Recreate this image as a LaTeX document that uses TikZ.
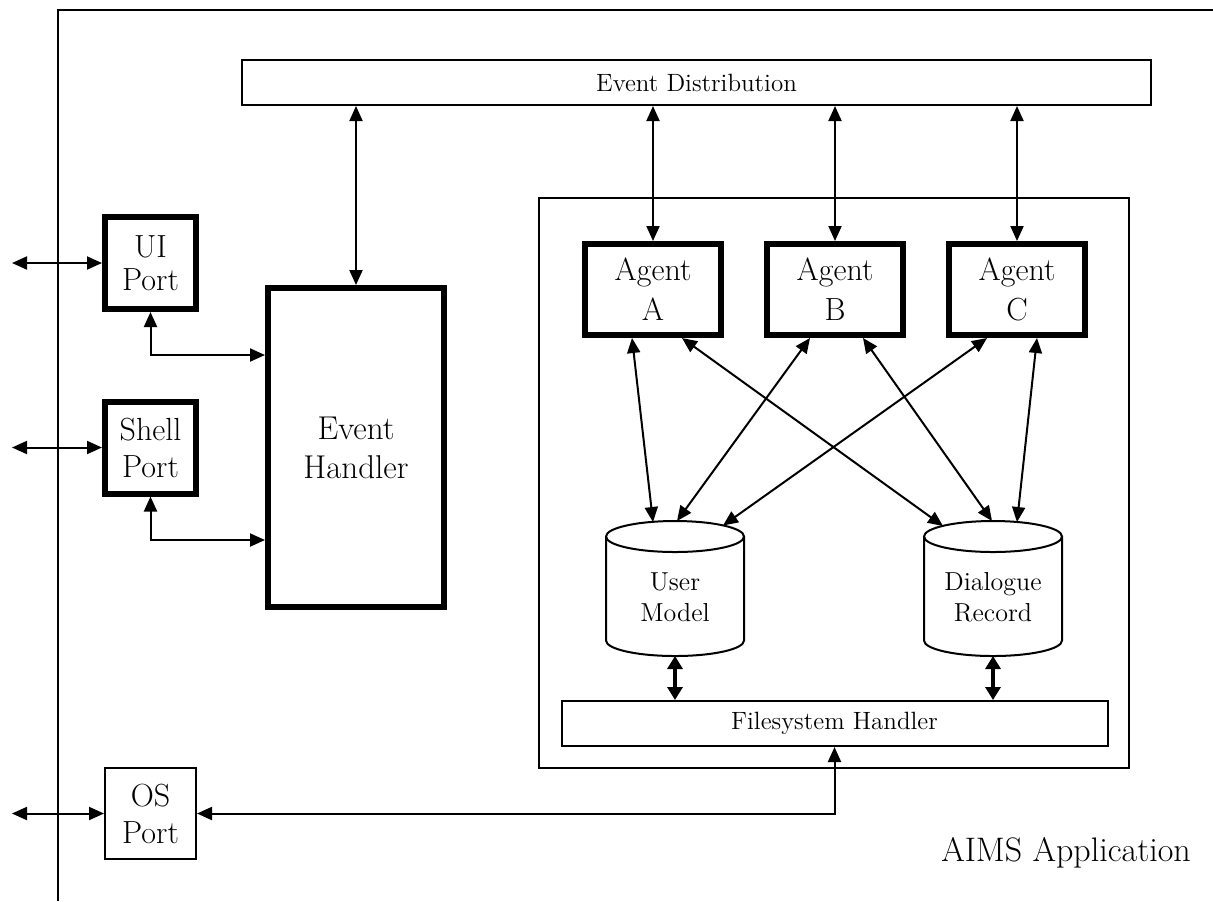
\documentclass[tikz,border=0pt]{standalone}
\usetikzlibrary{arrows.meta,calc}

% database drum around a named text node (outline drawn relative to its centre)
\newcommand\drumaround[1]{%
  \draw[thinline] ($(#1.center)+(-69,-60.5)$) -- ($(#1.center)+(-69,43.5)$)
    arc[start angle=180, end angle=360, x radius=34.5pt, y radius=7.75pt]
    -- ($(#1.center)+(69,-60.5)$);
  \draw[thinline] ($(#1.center)+(0,-60.5)$) ellipse [x radius=34.5pt, y radius=7.75pt];}

\begin{document}
\begin{tikzpicture}[x=0.5pt,y=-0.5pt,
  thinline/.style={line width=1pt},
  plainbox/.style={draw, line width=1pt, inner sep=0pt, align=center},
  heavybox/.style={draw, line width=3pt, inner sep=0pt, align=center,
                   font=\fontsize{16}{19}\selectfont},
  portbox/.style={minimum width=45.5pt, minimum height=46pt},
  agentbox/.style={heavybox, minimum width=68pt, minimum height=45.5pt,
                   font=\fontsize{16}{20}\selectfont},
  bar/.style={plainbox, font=\fontsize{12.5}{15}\selectfont, minimum height=22.5pt},
  drumtext/.style={inner sep=0pt, align=center, font=\fontsize{13}{15.5}\selectfont},
  link/.style={line width=1pt,
    {Triangle[length=7.5pt,width=6.5pt]}-{Triangle[length=7.5pt,width=6.5pt]}},
  fatlink/.style={line width=2pt,
    {Triangle[length=6.5pt,width=7.5pt]}-{Triangle[length=6.5pt,width=7.5pt]}},
]
\useasboundingbox (0,0) rectangle (1213,901);
\fill[white] (0,0) rectangle (1213,901);

% application frame (left and top edges)
\draw[thinline] (58,901) -- (58,10) -- (1213,10);

% event bus and handler
\node[bar, minimum width=454.5pt] (ED) at (696.5,82.5) {Event Distribution};
\node[heavybox, minimum width=88pt, minimum height=159.5pt,
      font=\fontsize{16.5}{19.5}\selectfont] (EH) at (356,447.5) {Event\\Handler};

% ports
\node[heavybox, portbox, font=\fontsize{16}{16.5}\selectfont] (ui) at (150.5,263) {UI\\Port};
\node[heavybox, portbox, font=\fontsize{16}{18.5}\selectfont] (shell) at (150.5,447.5) {Shell\\Port};
\node[plainbox, minimum width=45.5pt, minimum height=45.5pt,
      font=\fontsize{16}{18.5}\selectfont] (os) at (150.5,813.5) {OS\\Port};

% agent subsystem
\node[plainbox, minimum width=295pt, minimum height=285pt] (inner) at (833.5,482.5) {};
\node[agentbox] (agA) at (653,289.5) {Agent\\A};
\node[agentbox] (agB) at (835,289.5) {Agent\\B};
\node[agentbox] (agC) at (1017,289.5) {Agent\\C};

\node[drumtext] (um) at (675,597) {User\\Model};
\node[drumtext] (dr) at (993,597) {Dialogue\\Record};
\drumaround{um}
\drumaround{dr}

\node[bar, minimum width=273pt] (fs) at (834.5,723.5) {Filesystem Handler};

\node[font=\fontsize{17}{20}\selectfont, inner sep=0pt] (title) at (1066,853) {AIMS Application};

% outside ends of the port links
\coordinate (uiout) at (12,263);
\coordinate (shellout) at (12,447.5);
\coordinate (osout) at (12,813.5);

% connectors
\draw[link] (uiout) -- (ui.west);
\draw[link] (shellout) -- (shell.west);
\draw[link] (osout) -- (os.west);

\draw[link] (ED.south -| EH.north) -- (EH.north);
\draw[link] (ED.south -| agA.north) -- (agA.north);
\draw[link] (ED.south -| agB.north) -- (agB.north);
\draw[link] (ED.south -| agC.north) -- (agC.north);

\draw[link] (ui.south) |- ($(EH.north west)+(0,70)$);
\draw[link] (shell.south) |- ($(EH.north west)+(0,255)$);
\draw[link] (fs.south) |- (os.east);

\draw[link] ($(agA.south)+(-21,0)$) -- ($(um.center)+(-22,-75)$);
\draw[link] ($(agA.south)+(29,0)$) -- ($(dr.center)+(-50,-71)$);
\draw[link] ($(agB.south)+(-25,0)$) -- ($(um.center)+(2,-76)$);
\draw[link] ($(agB.south)+(28,0)$) -- ($(dr.center)+(-1,-76)$);
\draw[link] ($(agC.south)+(-30,0)$) -- ($(um.center)+(48,-71.5)$);
\draw[link] ($(agC.south)+(20,0)$) -- ($(dr.center)+(24,-75)$);

\coordinate (umfoot) at ($(um.center)+(0,59)$);
\coordinate (drfoot) at ($(dr.center)+(0,59)$);
\draw[fatlink] (umfoot) -- (umfoot |- fs.north);
\draw[fatlink] (drfoot) -- (drfoot |- fs.north);
\end{tikzpicture}
\end{document}
